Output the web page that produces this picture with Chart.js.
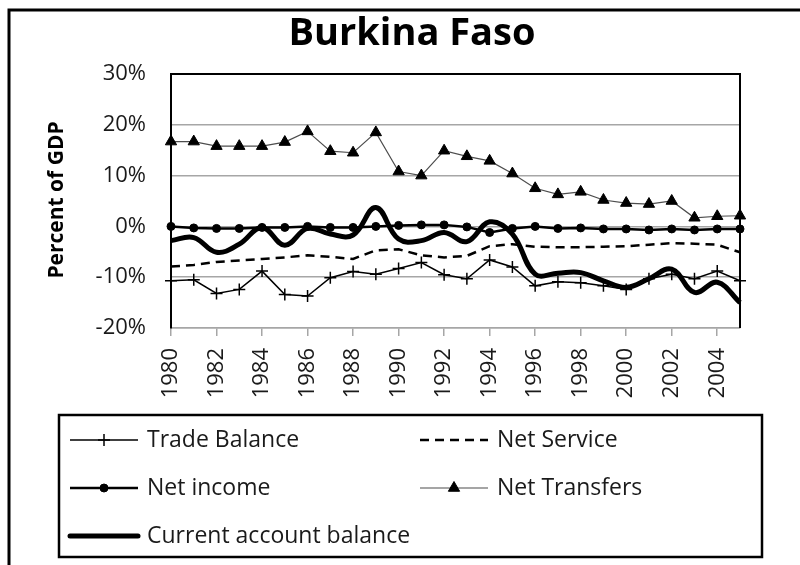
<!DOCTYPE html>
<html>
<head>
<meta charset="utf-8">
<script src="https://cdn.jsdelivr.net/npm/chart.js@4.4.1/dist/chart.umd.min.js"></script>
<style>
  html, body { margin: 0; padding: 0; background: #fff; }
  #wrap { width: 800px; height: 565px; position: relative; }
</style>
</head>
<body>
<div id="wrap"><canvas id="chart" width="800" height="565"></canvas></div>
<script>
// data (percent of GDP)
const years = ['1980','1981','1982','1983','1984','1985','1986','1987','1988','1989','1990','1991','1992',
               '1993','1994','1995','1996','1997','1998','1999','2000','2001','2002','2003','2004','2005'];
const tradeBalance = [-10.7,-10.5,-13.2,-12.4,-8.8,-13.4,-13.7,-10.1,-8.9,-9.4,-8.3,-7.1,-9.5,
                      -10.3,-6.6,-8.0,-11.7,-10.9,-11.1,-11.7,-12.4,-10.3,-9.4,-10.3,-8.8,-10.7];
const netService = [-7.9,-7.6,-7.0,-6.7,-6.4,-6.1,-5.7,-6.0,-6.4,-4.7,-4.5,-5.7,-6.1,
                    -5.8,-3.9,-3.5,-4.0,-4.1,-4.1,-4.0,-3.9,-3.6,-3.3,-3.4,-3.6,-5.1];
const netIncome = [0,-0.3,-0.4,-0.4,-0.2,-0.2,0,-0.2,-0.2,0,0.2,0.3,0.3,
                   -0.1,-1.2,-0.4,0,-0.4,-0.3,-0.5,-0.5,-0.7,-0.5,-0.7,-0.5,-0.5];
const netTransfers = [16.7,16.7,15.8,15.8,15.8,16.6,18.7,14.8,14.5,18.5,10.8,10.0,14.9,
                      13.8,12.9,10.4,7.5,6.3,6.8,5.2,4.6,4.4,5.0,1.7,2.0,2.1];
const currentAccount = [-2.8,-2.2,-5.1,-3.5,-0.2,-3.7,-0.4,-1.5,-1.7,3.7,-2.5,-2.8,-1.2,
                        -3.0,0.9,-1.5,-9.4,-9.2,-9.1,-10.7,-12.0,-10.3,-8.4,-13.0,-11.0,-15.0];
const yTicks = [-20, -10, 0, 10, 20, 30];

const FONT = "'Open Sans', sans-serif";
const GRID = '#a6a6a6';

// frame, title, y title and the two-column legend box
const decor = {
  id: 'decor',
  beforeDraw(chart) {
    const ctx = chart.ctx;
    ctx.save();
    ctx.fillStyle = '#fff';
    ctx.fillRect(0, 0, chart.width, chart.height);
    ctx.restore();
  },
  afterDatasetsDraw(chart) {
    const ctx = chart.ctx;
    const a = chart.chartArea;
    ctx.save();
    // plot area border (top / right black)
    ctx.strokeStyle = '#000';
    ctx.lineWidth = 2;
    ctx.beginPath();
    ctx.moveTo(a.left, a.top);
    ctx.lineTo(a.right, a.top);
    ctx.lineTo(a.right, a.bottom);
    ctx.stroke();
    ctx.restore();
  },
  afterDraw(chart) {
    const ctx = chart.ctx;
    ctx.save();
    // outer frame
    ctx.strokeStyle = '#000';
    ctx.lineWidth = 3;
    ctx.beginPath();
    ctx.moveTo(9, 565);
    ctx.lineTo(9, 10);
    ctx.lineTo(800, 10);
    ctx.stroke();

    // title
    ctx.fillStyle = '#000';
    ctx.font = 'bold 38px ' + FONT;
    ctx.textAlign = 'center';
    ctx.textBaseline = 'alphabetic';
    ctx.fillText('Burkina Faso', 412, 45);

    // y axis title
    ctx.save();
    ctx.translate(57, 200);
    ctx.rotate(-Math.PI / 2);
    ctx.font = 'bold 21px ' + FONT;
    ctx.textBaseline = 'middle';
    ctx.fillText('Percent of GDP', 0, 0);
    ctx.restore();

    // legend box
    ctx.lineWidth = 2.5;
    ctx.strokeRect(59, 415, 703, 142);
    const slots = [
      { ds: 0, x: 70, y: 440 }, { ds: 1, x: 420, y: 440 },
      { ds: 2, x: 70, y: 488 }, { ds: 3, x: 420, y: 488 },
      { ds: 4, x: 70, y: 536 }
    ];
    ctx.font = '23px ' + FONT;
    ctx.textAlign = 'left';
    ctx.textBaseline = 'middle';
    slots.forEach(s => {
      const d = chart.data.datasets[s.ds];
      ctx.save();
      ctx.strokeStyle = d.borderColor;
      ctx.lineWidth = d.borderWidth;
      ctx.setLineDash(d.borderDash || []);
      ctx.lineCap = d.borderWidth > 3 ? 'round' : 'butt';
      ctx.beginPath();
      ctx.moveTo(s.x, s.y);
      ctx.lineTo(s.x + 68, s.y);
      ctx.stroke();
      ctx.restore();
      if (d.pointRadius > 0) {
        ctx.save();
        ctx.fillStyle = d.pointBackgroundColor;
        ctx.strokeStyle = d.pointBorderColor;
        ctx.lineWidth = d.pointBorderWidth;
        Chart.helpers.drawPoint(ctx, {
          pointStyle: d.pointStyle, radius: d.pointRadius,
          borderWidth: d.pointBorderWidth, rotation: 0
        }, s.x + 34, s.y);
        ctx.restore();
      }
      ctx.fillStyle = '#1a1a1a';
      ctx.fillText(d.label, s.x + 77, s.y);
    });
    ctx.restore();
  }
};

new Chart(document.getElementById('chart'), {
  type: 'line',
  data: {
    labels: years,
    datasets: [
      {
        label: 'Trade Balance', data: tradeBalance,
        borderColor: '#000', borderWidth: 1.5, tension: 0,
        pointStyle: 'cross', pointRadius: 6, pointBorderWidth: 1.5,
        pointBorderColor: '#000', pointBackgroundColor: '#000'
      },
      {
        label: 'Net Service', data: netService,
        borderColor: '#000', borderWidth: 2.5, borderDash: [9, 6], tension: 0,
        pointRadius: 0
      },
      {
        label: 'Net income', data: netIncome,
        borderColor: '#000', borderWidth: 2.5, tension: 0,
        pointStyle: 'circle', pointRadius: 4, pointBorderWidth: 1,
        pointBorderColor: '#000', pointBackgroundColor: '#000'
      },
      {
        label: 'Net Transfers', data: netTransfers,
        borderColor: '#4d4d4d', borderWidth: 1.2, tension: 0,
        pointStyle: 'triangle', pointRadius: 6.5, pointBorderWidth: 1,
        pointBorderColor: '#000', pointBackgroundColor: '#000'
      },
      {
        label: 'Current account balance', data: currentAccount,
        borderColor: '#000', borderWidth: 5, tension: 0.4,
        pointRadius: 0
      }
    ]
  },
  options: {
    responsive: false,
    animation: false,
    layout: { padding: { left: 0, top: 74, right: 60, bottom: 157 } },
    plugins: {
      legend: { display: false },
      title: { display: false },
      tooltip: { enabled: false }
    },
    elements: { line: { borderCapStyle: 'butt' } },
    scales: {
      x: {
        offset: false,
        afterFit: s => { s.height = 80; },
        border: { color: GRID, width: 1.5 },
        grid: {
          drawOnChartArea: false, drawTicks: true, tickLength: 8, lineWidth: 1.5,
          color: c => (c.index % 2 === 0 ? GRID : 'rgba(0,0,0,0)')
        },
        ticks: {
          autoSkip: false, minRotation: 90, maxRotation: 90, padding: 12,
          color: '#1a1a1a', font: { family: FONT, size: 22 },
          callback: (v, i) => (i % 2 === 0 ? years[i] : '')
        }
      },
      y: {
        min: -20, max: 30,
        afterFit: s => { s.width = 171; },
        afterBuildTicks: s => { s.ticks = yTicks.map(v => ({ value: v })); },
        border: { color: '#000', width: 2 },
        grid: { color: GRID, lineWidth: 1.5, drawTicks: false },
        ticks: {
          padding: 25, color: '#1a1a1a', font: { family: FONT, size: 22 },
          callback: v => v + '%'
        }
      }
    }
  },
  plugins: [decor]
});
</script>
</body>
</html>
